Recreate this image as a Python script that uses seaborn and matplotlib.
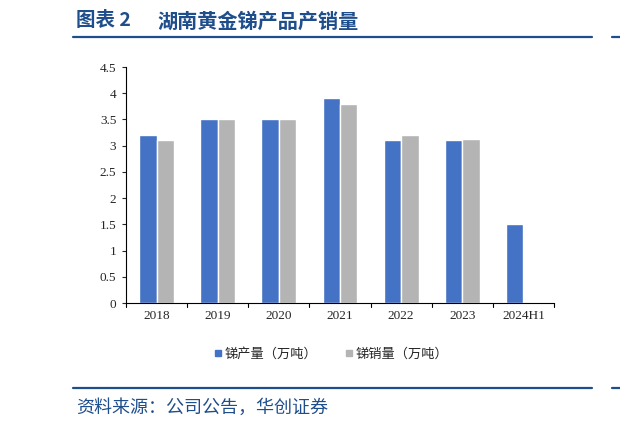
import numpy as np
import pandas as pd
import matplotlib
matplotlib.use('Agg')
import matplotlib.pyplot as plt
import seaborn as sns
from matplotlib.lines import Line2D

# data
years = ['2018', '2019', '2020', '2021', '2022', '2023', '2024H1']
output_vals = [3.2, 3.5, 3.5, 3.9, 3.1, 3.1, 1.5]
sales_vals = [3.1, 3.5, 3.5, 3.8, 3.2, 3.12, np.nan]
series_names = ['锑产量（万吨）', '锑销量（万吨）']
yticks = [0, 0.5, 1, 1.5, 2, 2.5, 3, 3.5, 4, 4.5]
ytick_labels = ['0', '0.5', '1', '1.5', '2', '2.5', '3', '3.5', '4', '4.5']

df = pd.DataFrame({
    'year': years * 2,
    'value': output_vals + sales_vals,
    'series': [series_names[0]] * len(years) + [series_names[1]] * len(years),
})

sns.set_style('white')
plt.rcParams['font.family'] = ['Noto Sans CJK SC', 'DejaVu Sans']

navy = '#1f4e8c'
fig = plt.figure(figsize=(6.2, 4.28), dpi=100)
ax = fig.add_axes([126 / 620, 1 - 303 / 428, 428 / 620, 236 / 428])

sns.barplot(data=df, x='year', y='value', hue='series', order=years,
            hue_order=series_names, palette=['#4472c4', '#b4b4b4'],
            width=0.57, gap=0, saturation=1, ax=ax, legend=False)

ax.set_ylim(0, 4.5)
ax.set_xlim(-0.5, len(years) - 0.5)
ax.set_yticks(yticks)
ax.set_yticklabels(ytick_labels, family='Liberation Serif', fontsize=9.5)
ax.set_xticks(range(len(years)))
ax.set_xticklabels(years, family='Liberation Serif', fontsize=9.5)
ax.set_xlabel('')
ax.set_ylabel('')
for s in ['top', 'right']:
    ax.spines[s].set_visible(False)
for s in ['left', 'bottom']:
    ax.spines[s].set_color('black')
    ax.spines[s].set_linewidth(0.8)

# category separator ticks on the x axis, outward ticks on y
ax.tick_params(axis='x', length=0, pad=5)
ax.tick_params(axis='y', direction='out', left=True, length=3, width=0.8, pad=4)
for k in np.arange(-0.5, len(years), 1.0):
    ax.plot([k, k], [0, -0.08], color='black', lw=0.8, clip_on=False,
            transform=ax.transData)

# legend
handles = [Line2D([], [], marker='s', ls='', color=c, markersize=5)
           for c in ['#4472c4', '#b4b4b4']]
fig.legend(handles, series_names, loc='center', bbox_to_anchor=(331 / 620, 1 - 354 / 428),
           ncol=2, frameon=False, fontsize=9.5, handletextpad=0.1,
           columnspacing=2.0, handlelength=0.8)

# title and rules
fig.text(76 / 620, 1 - 21 / 428, '图表 2', fontsize=14,
         fontweight='bold', color=navy, va='center', ha='left')
fig.text(157 / 620, 1 - 21 / 428, '湖南黄金锑产品产销量', fontsize=14.5,
         fontweight='bold', color=navy, va='center', ha='left')
fig.add_artist(Line2D([73 / 620, 592 / 620], [1 - 37 / 428] * 2, color=navy, lw=1.6))
fig.add_artist(Line2D([612 / 620, 1.0], [1 - 37 / 428] * 2, color=navy, lw=1.6))
fig.add_artist(Line2D([73 / 620, 592 / 620], [1 - 388 / 428] * 2, color=navy, lw=1.6))
fig.add_artist(Line2D([612 / 620, 1.0], [1 - 388 / 428] * 2, color=navy, lw=1.6))
fig.text(76 / 620, 1 - 408 / 428, '资料来源：公司公告，华创证券', fontsize=13,
         style='italic', color=navy, va='center', ha='left')

fig.savefig('out.png', dpi=100)
